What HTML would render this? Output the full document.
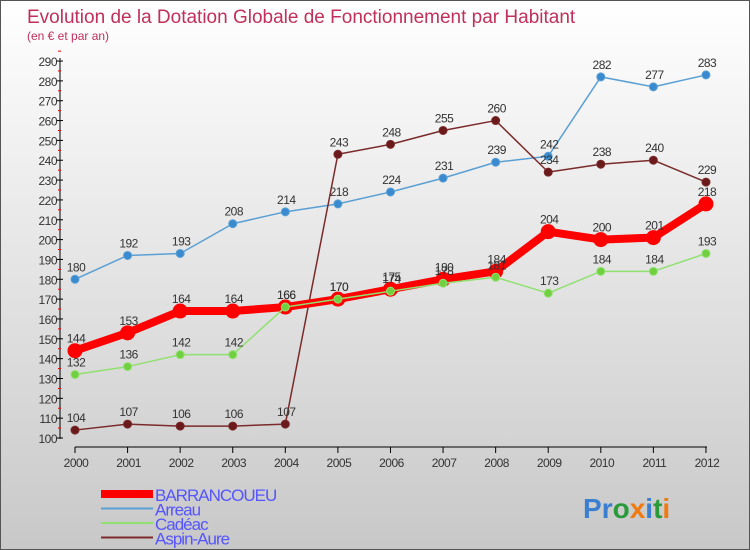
<!DOCTYPE html>
<html><head><meta charset="utf-8"><style>
body{margin:0;width:750px;height:550px;overflow:hidden;font-family:"Liberation Sans",sans-serif}
#wrap{position:relative;width:748px;height:548px;border:1px solid #555;background:linear-gradient(#fff,#c8c8c8)}
</style></head><body>
<div id="wrap">
<svg id="chart" width="748" height="548" style="position:absolute;left:0;top:0"></svg>
</div>
<script>
const years=["2000","2001","2002","2003","2004","2005","2006","2007","2008","2009","2010","2011","2012"];
const barrancoueu=[144,153,164,164,166,170,175,180,184,204,200,201,218];
const arreau=[180,192,193,208,214,218,224,231,239,242,282,277,283];
const cadeac=[132,136,142,142,166,170,174,178,181,173,184,184,193];
const aspin=[104,107,106,106,107,243,248,255,260,234,238,240,229];
const yTicks=[100,110,120,130,140,150,160,170,180,190,200,210,220,230,240,250,260,270,280,290];
const NS="http://www.w3.org/2000/svg";
const svg=document.getElementById('chart');
function X(i){return 74+i*52.58;}
function Y(v){return 437-(v-100)*1.984;}
function mk(t,a,p){const e=document.createElementNS(NS,t);for(const k in a)e.setAttribute(k,a[k]);(p||svg).appendChild(e);return e;}
let t=mk('text',{x:26,y:22,fill:'#c0305a','font-size':19});t.textContent='Evolution de la Dotation Globale de Fonctionnement par Habitant';


t=mk('text',{x:26,y:39,fill:'#c0305a','font-size':12});t.textContent='(en € et par an)';


// axes
let ax=mk('line',{x1:59,y1:57,x2:59,y2:438,stroke:'#000'});


ax=mk('line',{x1:74,y1:446,x2:706,y2:446,stroke:'#000'});


yTicks.forEach(v=>{
  mk('line',{x1:56,y1:Y(v),x2:62,y2:Y(v),stroke:'#000'});
  mk('line',{x1:57,y1:Y(v+5),x2:60,y2:Y(v+5),stroke:'#e00'});
  const l=mk('text',{x:56,y:Y(v)+5,'text-anchor':'end','font-size':12,fill:'#333','letter-spacing':'-0.5'});l.textContent=v;
  
  
});
years.forEach((y,i)=>{
  mk('line',{x1:X(i),y1:446,x2:X(i),y2:452,stroke:'#000'});
  const l=mk('text',{x:X(i)+1,y:466,'text-anchor':'middle','font-size':12,fill:'#333','letter-spacing':'-0.5'});l.textContent=y;
  
  
});
function series(data,color,w,r,fill,name){
  const g=mk('g',{});
  
  
  mk('polyline',{points:data.map((v,i)=>X(i)+','+Y(v)).join(' '),fill:'none',stroke:color,'stroke-width':w,'stroke-linejoin':'round'},g);
  data.forEach((v,i)=>{
    const c=mk('circle',{cx:X(i),cy:Y(v),r:r,fill:fill,stroke:color,'stroke-width':1},g);
    
    
    const l=mk('text',{x:X(i)+1,y:Y(v)-8,'text-anchor':'middle','font-size':12,fill:'#333','letter-spacing':'-0.5'},g);l.textContent=v;
    
    
  });
}
series(arreau,'#5a9fd4',1.5,4,'#3a8ad0','series-arreau');
series(aspin,'#7a2a2a',1.5,4,'#6a1a1a','series-aspin-aure');
series(barrancoueu,'#f00',8,7,'#f00','series-barrancoueu');
series(cadeac,'#90e070',1.5,4,'#70d040','series-cadeac');
// legend
const leg=[['BARRANCOUEU','#f00',8],['Arreau','#5a9fd4',2],['Cadéac','#90e070',2],['Aspin-Aure','#7a2a2a',2]];
leg.forEach((d,i)=>{
  const y=493+i*14.5;
  const g=mk('g',{});
  
  
  mk('line',{x1:100,y1:y,x2:152,y2:y,stroke:d[1],'stroke-width':d[2]},g);
  const l=mk('text',{x:154,y:y+7,'font-size':17,fill:'#5555ff','letter-spacing':'-1'},g);l.textContent=d[0];
});
// logo
const lg=mk('text',{x:582,y:517,'font-size':28,'font-weight':'bold'});


[['P','#3a7fd0'],['r','#3a7fd0'],['o','#2a9a3a'],['x','#f07a10'],['i','#3a7fd0'],['t','#2a9a3a'],['i','#f07a10']].forEach(c=>{const s=mk('tspan',{fill:c[1]},lg);s.textContent=c[0];});
</script>
</body></html>
